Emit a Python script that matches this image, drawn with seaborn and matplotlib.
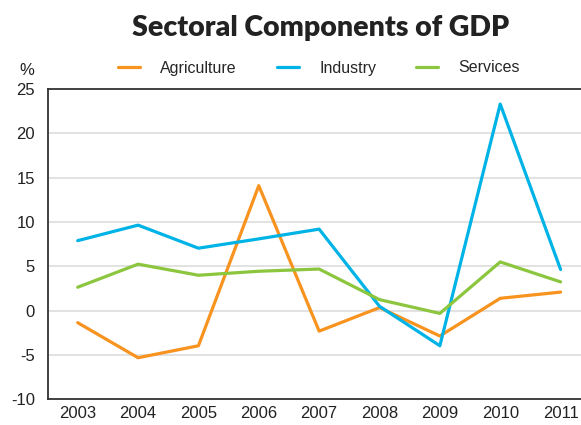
import numpy as np
import pandas as pd
import matplotlib.pyplot as plt
import seaborn as sns

# values (% growth)
years = [2003, 2004, 2005, 2006, 2007, 2008, 2009, 2010, 2011]
agriculture = [-1.35, -5.3, -3.95, 14.1, -2.3, 0.35, -2.85, 1.4, 2.1]
industry = [7.9, 9.65, 7.05, 8.1, 9.2, 0.5, -3.95, 23.3, 4.65]
services = [2.65, 5.25, 4.0, 4.45, 4.7, 1.25, -0.3, 5.5, 3.25]

sectors = ["Agriculture", "Industry", "Services"]
colors = ["#F7931E", "#00B3E6", "#8CC63F"]

df = pd.DataFrame({
    "year": years * 3,
    "value": agriculture + industry + services,
    "sector": [s for s in sectors for _ in years],
})

sns.set_style("white")
plt.rcParams["font.family"] = ["Liberation Sans", "DejaVu Sans"]
plt.rcParams["axes.unicode_minus"] = False

fig = plt.figure(figsize=(5.81, 4.25), dpi=100)
ax = fig.add_axes([0.0818, 0.0602, 0.935, 0.7304])

sns.lineplot(data=df, x="year", y="value", hue="sector", hue_order=sectors,
             palette=colors, linewidth=2.3, ax=ax, legend=False)

ax.set_xlim(2002.5, 2011.5)
ax.set_ylim(-10, 25)
ax.set_yticks(range(-10, 26, 5))
ax.set_xticks(years)
ax.set_xticks(np.arange(2003.5, 2011.6, 1), minor=True)
ax.yaxis.grid(True, color="#dddddd", linewidth=1.2)
ax.set_axisbelow(True)
ax.tick_params(axis="both", which="major", length=0, labelsize=12, pad=5, colors="#222222")
ax.tick_params(axis="x", which="minor", direction="in", length=8, width=1, color="#cccccc")
ax.tick_params(axis="y", pad=9)
ax.set_xlabel("")
ax.set_ylabel("")
for side in ["left", "bottom", "top"]:
    ax.spines[side].set_color("#333333")
    ax.spines[side].set_linewidth(1.3)
ax.spines["right"].set_visible(False)

fig.text(0.552, 0.935, "Sectoral Components of GDP", ha="center", va="center",
         fontsize=20.5, fontweight="heavy", color="#222222",
         family=["Lato", "DejaVu Sans"])
fig.text(0.047, 0.835, "%", ha="center", va="center", fontsize=12, color="#222222")

handles = [plt.Line2D([], [], color=c, linewidth=2.3) for c in colors]
fig.legend(handles, sectors, loc="center", bbox_to_anchor=(0.549, 0.84), ncol=3,
           frameon=False, fontsize=11.5, handlelength=1.4, handletextpad=1.25,
           columnspacing=2.5)

fig.savefig("out.png", dpi=100)
